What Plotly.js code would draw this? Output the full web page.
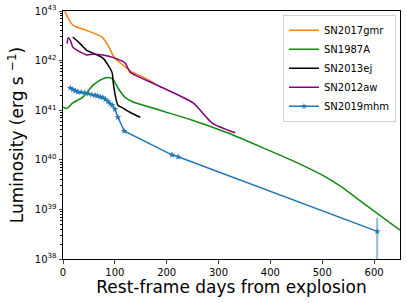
<!DOCTYPE html>
<html><head><meta charset="utf-8">
<script src="https://cdn.plot.ly/plotly-3.0.1.min.js"></script>
<style>html,body{margin:0;padding:0;background:#fff}#c{width:407px;height:303px}</style>
</head><body><div id="c"></div>
<script>
const days17gmr = [2, 19, 42, 75, 87, 100, 116, 133, 154, 178];
const lum17gmr  = [1.05e43, 5.2e42, 4.2e42, 3.0e42, 2.0e42, 1.12e42, 8.1e41, 5.9e41, 4.7e41, 3.4e41];

const days87A = [0, 8, 19, 39, 58, 77, 91, 97, 106, 120, 133, 187, 251, 317, 394, 450, 502, 535, 570, 606, 650];
const lum87A  = [1.15e41, 1.1e41, 1.4e41, 1.86e41, 3.2e41, 4.3e41, 4.5e41, 4.1e41, 2.8e41, 1.8e41, 1.5e41, 1.0e41, 6.2e40, 3.5e40, 1.6e40, 8.9e39, 4.8e39, 2.95e39, 1.58e39, 8.3e38, 3.8e38];

const days13ej = [19, 33, 46, 66, 77, 87, 95, 97, 100, 106, 116, 129, 149];
const lum13ej  = [3.0e42, 2.2e42, 1.6e42, 1.3e42, 1.12e42, 8.1e41, 5.6e41, 3.5e41, 2.2e41, 1.26e41, 1.1e41, 9.1e40, 7.2e40];

const days12aw = [8, 10, 14, 19, 33, 46, 58, 77, 100, 120, 129, 139, 187, 251, 288, 332];
const lum12aw  = [2.2e42, 2.9e42, 2.6e42, 1.86e42, 1.5e42, 1.3e42, 1.35e42, 1.3e42, 1.12e42, 8.9e41, 5.9e41, 5.1e41, 3.0e41, 1.4e41, 5.5e40, 3.5e40];

const days19mhm = [14, 19, 24, 29, 35, 42, 49, 56, 62, 66, 72, 77, 82, 87, 91, 95, 100, 106, 118, 210, 222, 606];
const lum19mhm  = [2.8e41, 2.6e41, 2.45e41, 2.35e41, 2.3e41, 2.25e41, 2.15e41, 2.05e41, 2.0e41, 1.95e41, 1.85e41, 1.8e41, 1.65e41, 1.5e41, 1.35e41, 1.25e41, 1.05e41, 7.2e40, 3.8e40, 1.26e40, 1.15e40, 3.6e38];
const errUp19mhm   = [1.2e40, 1.1e40, 1.0e40, 1.0e40, 1.0e40, 1.0e40, 9e39, 9e39, 9e39, 8e39, 8e39, 8e39, 7e39, 7e39, 6e39, 6e39, 5e39, 4e39, 2e39, 6e38, 6e38, 3.1e38];
const errDown19mhm = [1.2e40, 1.1e40, 1.0e40, 1.0e40, 1.0e40, 1.0e40, 9e39, 9e39, 9e39, 8e39, 8e39, 8e39, 7e39, 7e39, 6e39, 6e39, 5e39, 4e39, 2e39, 6e38, 6e38, 3.55e38];

const yTickVals = [1e38, 1e39, 1e40, 1e41, 1e42, 1e43];
const yTickText = ['10<sup>38</sup>', '10<sup>39</sup>', '10<sup>40</sup>', '10<sup>41</sup>', '10<sup>42</sup>', '10<sup>43</sup>'];
const xTickVals = [0, 100, 200, 300, 400, 500, 600];

const traces = [
  {x: days17gmr, y: lum17gmr, name: 'SN2017gmr', mode: 'lines', line: {color: '#ff7f0e', width: 1.5, shape: 'spline', smoothing: 0.7}},
  {x: days87A, y: lum87A, name: 'SN1987A', mode: 'lines', line: {color: '#108a10', width: 1.5, shape: 'spline', smoothing: 0.7}},
  {x: days13ej, y: lum13ej, name: 'SN2013ej', mode: 'lines', line: {color: '#000000', width: 1.5, shape: 'spline', smoothing: 0.6}},
  {x: days12aw, y: lum12aw, name: 'SN2012aw', mode: 'lines', line: {color: '#800080', width: 1.5, shape: 'spline', smoothing: 0.6}},
  {x: days19mhm, y: lum19mhm, name: 'SN2019mhm', mode: 'lines+markers',
   line: {color: '#1f77b4', width: 1.5},
   marker: {color: '#1f77b4', symbol: 'star', size: 5},
   error_y: {type: 'data', symmetric: false, array: errUp19mhm, arrayminus: errDown19mhm,
             color: 'rgba(31,119,180,0.5)', thickness: 2, width: 0}}
];

const layout = {
  width: 407, height: 303,
  margin: {l: 63, r: 7, t: 11, b: 44},
  paper_bgcolor: '#fff', plot_bgcolor: '#fff',
  font: {family: 'DejaVu Sans', color: '#000', size: 10},
  showlegend: true,
  legend: {x: 0.988, y: 0.985, xanchor: 'right', yanchor: 'top',
           bgcolor: 'rgba(255,255,255,0.8)', bordercolor: '#d0d0d0', borderwidth: 1,
           font: {family: 'DejaVu Sans', size: 10}, tracegroupgap: 0, itemwidth: 30},
  xaxis: {range: [0, 650], tickvals: xTickVals, ticks: 'outside', ticklen: 3.5,
          showgrid: false, zeroline: false, showline: true, linecolor: '#000', linewidth: 1, mirror: true,
          tickfont: {size: 10},
          title: {text: 'Rest-frame days from explosion', font: {size: 17}, standoff: 4}},
  yaxis: {type: 'log', range: [38, 43], tickvals: yTickVals, ticktext: yTickText, ticks: 'outside', ticklen: 3.5,
          showgrid: false, zeroline: false, showline: true, linecolor: '#000', linewidth: 1, mirror: true,
          tickfont: {size: 10},
          minor: {ticks: 'outside', ticklen: 2, dtick: 'D1', showgrid: false, tickcolor: '#000'},
          title: {text: 'Luminosity (erg s <sup>\u22121</sup>)', font: {size: 17}, standoff: 6}}
};

Plotly.newPlot('c', traces, layout, {displayModeBar: false, staticPlot: true});
</script></body></html>
